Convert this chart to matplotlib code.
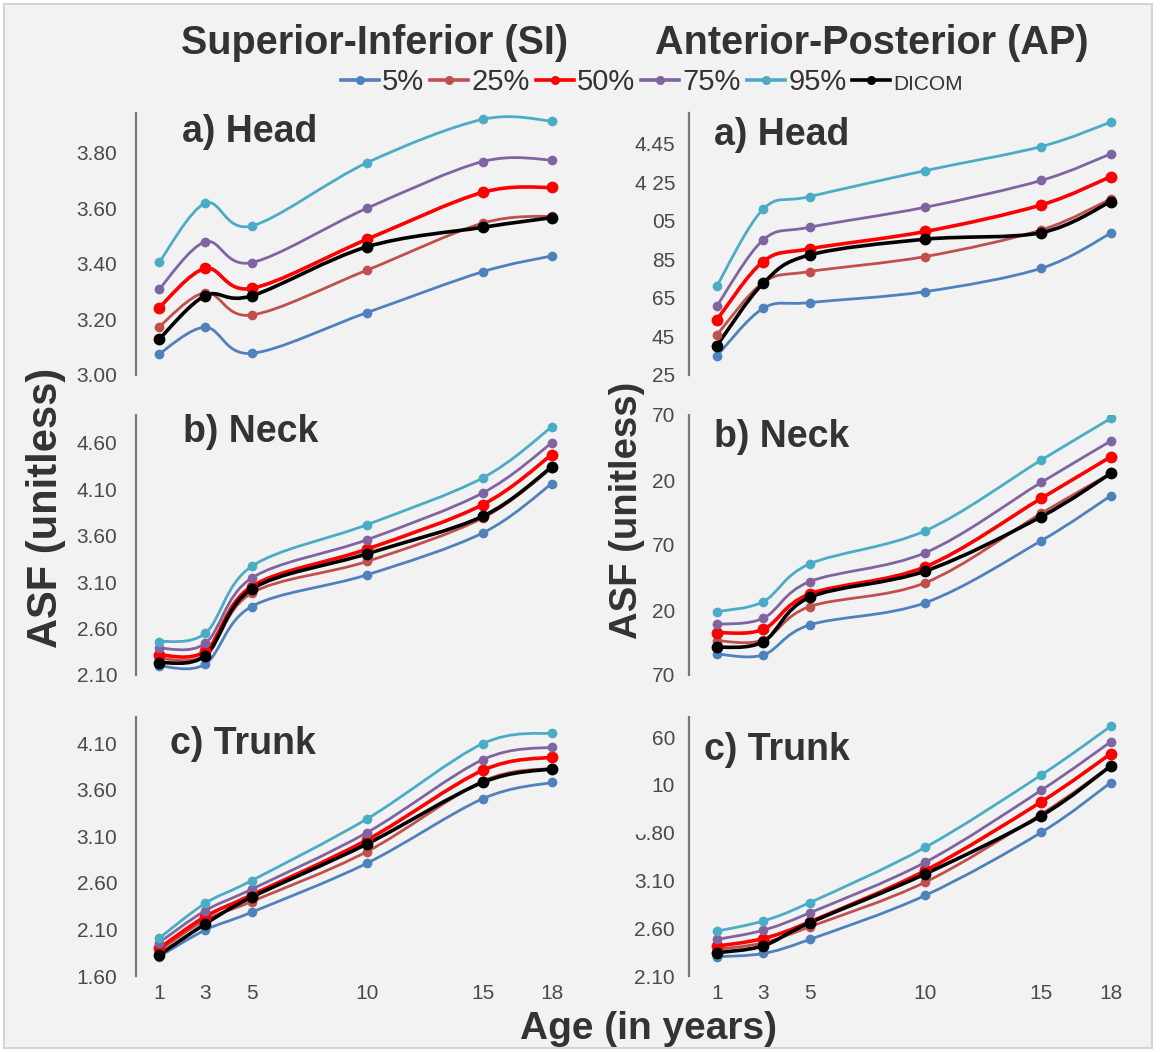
import matplotlib
matplotlib.use("Agg")
import matplotlib.pyplot as plt
from matplotlib.path import Path
from matplotlib.patches import PathPatch, Rectangle
from matplotlib.lines import Line2D
import numpy as np

# ---- data ----
ages = [1, 3, 5, 10, 15, 18]
series_names = ["5%", "25%", "50%", "75%", "95%", "DICOM"]

si_head_p5 = [3.076, 3.172, 3.078, 3.225, 3.372, 3.429]
si_head_p25 = [3.174, 3.297, 3.216, 3.378, 3.547, 3.573]
si_head_p50 = [3.243, 3.384, 3.312, 3.489, 3.658, 3.676]
si_head_p75 = [3.309, 3.480, 3.405, 3.601, 3.769, 3.775]
si_head_p95 = [3.406, 3.619, 3.537, 3.765, 3.921, 3.915]
si_head_dicom = [3.129, 3.286, 3.285, 3.462, 3.532, 3.567]

ap_head_p5 = [3.349, 3.596, 3.626, 3.683, 3.804, 3.986]
ap_head_p25 = [3.458, 3.730, 3.787, 3.865, 4.003, 4.164]
ap_head_p50 = [3.536, 3.839, 3.905, 3.995, 4.133, 4.280]
ap_head_p75 = [3.608, 3.951, 4.017, 4.121, 4.260, 4.398]
ap_head_p95 = [3.712, 4.111, 4.176, 4.311, 4.436, 4.563]
ap_head_dicom = [3.402, 3.726, 3.873, 3.955, 3.989, 4.150]

si_neck_p5 = [2.197, 2.219, 2.837, 3.179, 3.629, 4.161]
si_neck_p25 = [2.280, 2.316, 2.981, 3.323, 3.790, 4.330]
si_neck_p50 = [2.316, 2.359, 3.053, 3.456, 3.934, 4.474]
si_neck_p75 = [2.388, 2.442, 3.143, 3.557, 4.060, 4.600]
si_neck_p95 = [2.460, 2.550, 3.269, 3.719, 4.222, 4.773]
si_neck_dicom = [2.233, 2.309, 3.024, 3.406, 3.809, 4.341]

ap_neck_p5 = [3.862, 3.854, 4.085, 4.256, 4.733, 5.079]
ap_neck_p25 = [3.964, 3.969, 4.226, 4.410, 4.944, 5.251]
ap_neck_p50 = [4.026, 4.051, 4.323, 4.533, 5.059, 5.379]
ap_neck_p75 = [4.090, 4.136, 4.418, 4.641, 5.182, 5.500]
ap_neck_p95 = [4.187, 4.264, 4.554, 4.810, 5.354, 5.674]
ap_neck_dicom = [3.913, 3.956, 4.297, 4.500, 4.918, 5.251]

si_trunk_p5 = [1.808, 2.094, 2.284, 2.811, 3.502, 3.678]
si_trunk_p25 = [1.872, 2.202, 2.399, 2.936, 3.690, 3.830]
si_trunk_p50 = [1.897, 2.238, 2.470, 3.061, 3.807, 3.950]
si_trunk_p75 = [1.958, 2.302, 2.531, 3.140, 3.921, 4.057]
si_trunk_p95 = [2.005, 2.381, 2.624, 3.287, 4.093, 4.208]
si_trunk_dicom = [1.826, 2.159, 2.445, 3.018, 3.678, 3.824]

ap_trunk_p5 = [2.301, 2.336, 2.482, 2.944, 3.603, 4.124]
ap_trunk_p25 = [2.378, 2.447, 2.614, 3.083, 3.794, 4.298]
ap_trunk_p50 = [2.412, 2.492, 2.666, 3.204, 3.923, 4.426]
ap_trunk_p75 = [2.482, 2.579, 2.760, 3.291, 4.044, 4.551]
ap_trunk_p95 = [2.569, 2.676, 2.867, 3.447, 4.204, 4.714]
ap_trunk_dicom = [2.343, 2.416, 2.656, 3.169, 3.777, 4.298]

# tick values and labels (as printed in the figure)
si_head_ticks = [3.00, 3.20, 3.40, 3.60, 3.80]
si_head_labels = ["3.00", "3.20", "3.40", "3.60", "3.80"]
si_neck_ticks = [2.10, 2.60, 3.10, 3.60, 4.10, 4.60]
si_neck_labels = ["2.10", "2.60", "3.10", "3.60", "4.10", "4.60"]
si_trunk_ticks = [1.60, 2.10, 2.60, 3.10, 3.60, 4.10]
si_trunk_labels = ["1.60", "2.10", "2.60", "3.10", "3.60", "4.10"]
ap_head_ticks = [3.25, 3.45, 3.65, 3.85, 4.05, 4.25, 4.45]
ap_head_labels = ["25", "45", "65", "85", "05", "4 25", "4.45"]
ap_neck_ticks = [3.70, 4.20, 4.70, 5.20, 5.70]
ap_neck_labels = ["70", "20", "70", "20", "70"]
ap_trunk_ticks = [2.10, 2.60, 3.10, 3.60, 4.10, 4.60]
ap_trunk_labels = ["2.10", "2.60", "3.10", "\u1d17.80", "10", "60"]

colors = ["#4f81bd", "#c0504d", "#ff0000", "#8064a2", "#4bacc6", "#000000"]

W, H = 1160, 1052
plt.rcParams["font.family"] = ["Liberation Sans", "DejaVu Sans"]


def smooth(ax, xs, ys, color, lw):
	# excel-like smoothed line: cubic bezier between the points
	pts = np.column_stack([xs, ys]).astype(float)
	n = len(pts)
	verts = [pts[0]]
	codes = [Path.MOVETO]
	for i in range(n - 1):
		p0 = pts[i - 1] if i > 0 else pts[i]
		p1 = pts[i]
		p2 = pts[i + 1]
		p3 = pts[i + 2] if i + 2 < n else pts[i + 1]
		verts += [p1 + (p2 - p0) / 6.0, p2 - (p3 - p1) / 6.0, p2]
		codes += [Path.CURVE4] * 3
	ax.add_patch(PathPatch(Path(verts, codes), fill=False, edgecolor=color,
		lw=lw, capstyle="round", joinstyle="round"))


def px_axes(left, top, right, bottom):
	return fig.add_axes([left / W, 1 - bottom / H, (right - left) / W, (bottom - top) / H])


fig = plt.figure(figsize=(W / 100, H / 100), dpi=100, facecolor="white")
fig.patches.append(Rectangle((4 / W, 4 / H), (1152 - 4) / W, (1048 - 4) / H,
	transform=fig.transFigure, facecolor="#f2f2f2", edgecolor="#d4d4d4", lw=1.5, zorder=-10))

panels = [
	# (data, ticks, labels, ylim, column, row, panel text)
	([si_head_p5, si_head_p25, si_head_p50, si_head_p75, si_head_p95, si_head_dicom],
		si_head_ticks, si_head_labels, (3.0, 3.944), 0, 0, "a) Head"),
	([si_neck_p5, si_neck_p25, si_neck_p50, si_neck_p75, si_neck_p95, si_neck_dicom],
		si_neck_ticks, si_neck_labels, (2.10, 4.90), 0, 1, "b) Neck"),
	([si_trunk_p5, si_trunk_p25, si_trunk_p50, si_trunk_p75, si_trunk_p95, si_trunk_dicom],
		si_trunk_ticks, si_trunk_labels, (1.60, 4.38), 0, 2, "c) Trunk"),
	([ap_head_p5, ap_head_p25, ap_head_p50, ap_head_p75, ap_head_p95, ap_head_dicom],
		ap_head_ticks, ap_head_labels, (3.25, 4.61), 1, 0, "a) Head"),
	([ap_neck_p5, ap_neck_p25, ap_neck_p50, ap_neck_p75, ap_neck_p95, ap_neck_dicom],
		ap_neck_ticks, ap_neck_labels, (3.70, 5.70), 1, 1, "b) Neck"),
	([ap_trunk_p5, ap_trunk_p25, ap_trunk_p50, ap_trunk_p75, ap_trunk_p95, ap_trunk_dicom],
		ap_trunk_ticks, ap_trunk_labels, (2.10, 4.81), 1, 2, "c) Trunk"),
]

col_x = [(136, 575, (0, 19)), (689, 1134, (-0.2, 19))]
row_y = [(113, 375), (415, 675), (717, 976)]
label_pos = {(0, 0): (182, 142), (0, 1): (183, 442), (0, 2): (170, 754),
	(1, 0): (714, 145), (1, 1): (714, 447), (1, 2): (704, 760)}

for data, ticks, labels, ylim, col, row, name in panels:
	left, right, xlim = col_x[col]
	top, bottom = row_y[row]
	ax = px_axes(left, top, right, bottom)
	ax.set_facecolor("none")
	ax.set_xlim(*xlim)
	ax.set_ylim(*ylim)
	for s in ["top", "right", "bottom"]:
		ax.spines[s].set_visible(False)
	ax.spines["left"].set_color("#7a7a7a")
	ax.spines["left"].set_linewidth(1.6)
	ax.set_yticks(ticks)
	ax.set_yticklabels(labels)
	ax.tick_params(axis="y", length=0, pad=13.5 if col == 0 else 10, labelsize=15, labelcolor="#4a4a4a")
	if row == 2:
		ax.set_xticks(ages)
		ax.tick_params(axis="x", length=0, pad=6, labelsize=15, labelcolor="#4a4a4a")
	else:
		ax.set_xticks([])
	for k, ys in enumerate(data):
		big = k in (2, 5)
		smooth(ax, ages, ys, colors[k], 2.6 if big else 2.0)
		ax.plot(ages, ys, "o", color=colors[k], ms=8.5 if big else 7, mew=0, zorder=3)
	lx, ly = label_pos[(col, row)]
	fig.text(lx / W, 1 - ly / H, name, fontsize=27, fontweight="bold", color="#333333", va="baseline")

# titles
fig.text(375 / W, 1 - 43 / H, "Superior-Inferior (SI)", fontsize=28.5,
	fontweight="bold", color="#333333", ha="center", va="center")
fig.text(872 / W, 1 - 43 / H, "Anterior-Posterior (AP)", fontsize=28.5,
	fontweight="bold", color="#333333", ha="center", va="center")

# legend
handles = [Line2D([], [], color=c, lw=2.6, marker="o", ms=6.5, mew=0) for c in colors]
leg = fig.legend(handles, series_names, loc="center", bbox_to_anchor=(652 / W, 1 - 82 / H),
	ncol=6, frameon=False, handlelength=1.3, handletextpad=0.12, columnspacing=0.2,
	prop={"size": 21})
for t in leg.get_texts():
	t.set_color("#333333")
leg.get_texts()[5].set_fontsize(15)

# axis titles
fig.text(46 / W, 1 - 508 / H, "ASF (unitless)", rotation=90, fontsize=30, fontweight="bold",
	color="#333333", ha="center", va="center")
fig.text(627 / W, 1 - 510 / H, "ASF (unitless)", rotation=90, fontsize=27.5, fontweight="bold",
	color="#333333", ha="center", va="center")
fig.text(648 / W, 1 - 1029 / H, "Age (in years)", fontsize=28, fontweight="bold",
	color="#333333", ha="center", va="center")

fig.savefig("out.png", dpi=100, facecolor="white")
